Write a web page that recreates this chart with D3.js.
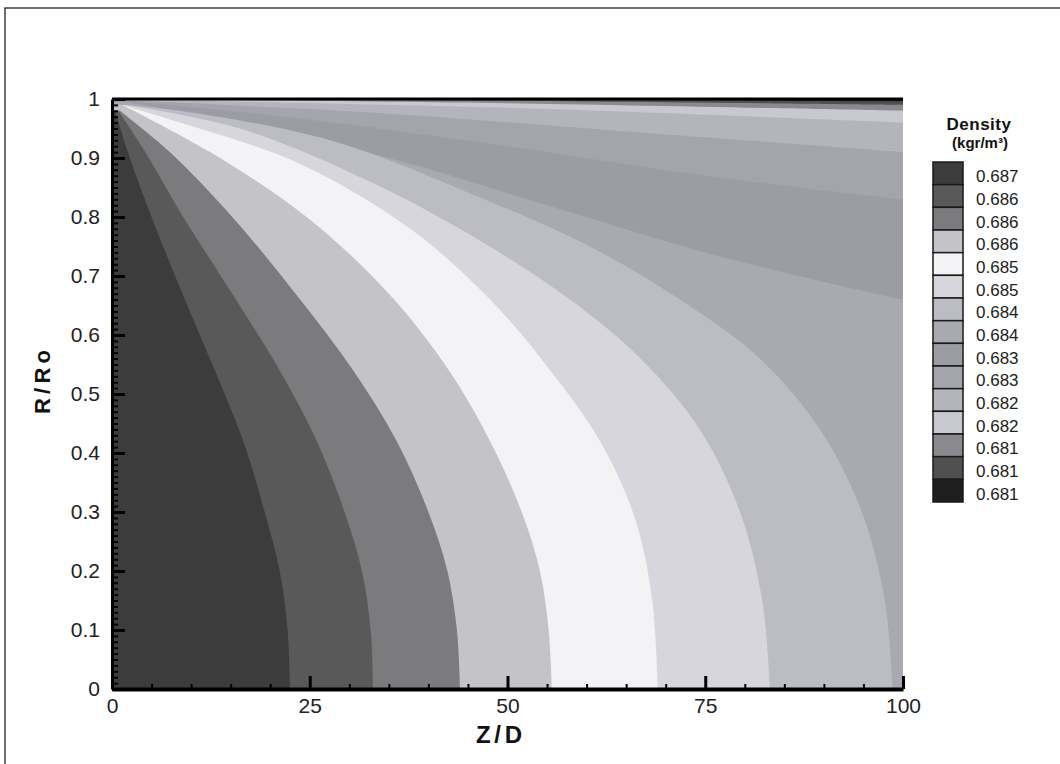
<!DOCTYPE html>
<html>
<head>
<meta charset="utf-8">
<script src="https://cdn.jsdelivr.net/npm/d3@7"></script>
<style>
  body { margin: 0; background: #fff; }
  svg { font-family: "Liberation Sans", Arial, sans-serif; }
</style>
</head>
<body>
<svg id="chart" width="1060" height="764"></svg>
<script>
// contour levels as printed in the legend, top to bottom
var levels = ['0.687', '0.686', '0.686', '0.686', '0.685', '0.685', '0.684', '0.684',
              '0.683', '0.683', '0.682', '0.682', '0.681', '0.681', '0.681'];
var levelColors = ['#3c3c3c', '#595959', '#7b7b7d', '#c3c3c8', '#f3f3f6', '#d6d6dc', '#bcbcc4', '#a9a9b1',
                   '#9c9ca4', '#a4a4ac', '#b4b4bc', '#c8c8d0', '#8a8a8e', '#505050', '#1e1e1e'];

// band boundaries as [Z/D, R/Ro],
// from the bottom (or right) edge up to the inlet corner
var edge1 = [[22.5, 0], [22.2, 0.1], [21.2, 0.2], [19.3, 0.3], [16.6, 0.42], [13, 0.54], [8.9, 0.67], [5, 0.8], [2, 0.91], [0.4, 0.98]];
var edge2 = [[33, 0], [32.7, 0.1], [31.6, 0.2], [29.4, 0.3], [25.9, 0.42], [21.2, 0.54], [15.2, 0.67], [9, 0.8], [4.2, 0.91], [0.8, 0.98]];
var edge3 = [[44, 0], [43.6, 0.1], [42.4, 0.2], [40, 0.3], [36, 0.42], [30.5, 0.54], [23.2, 0.67], [15.2, 0.8], [7.3, 0.91], [1, 0.98]];
var edge4 = [[55.6, 0], [55.2, 0.1], [54.1, 0.2], [51.8, 0.3], [47.8, 0.42], [42.6, 0.54], [35, 0.67], [24.6, 0.8], [12.4, 0.91], [1.3, 0.99]];
var edge5 = [[69, 0], [68.3, 0.15], [66.1, 0.29], [61.7, 0.42], [55.4, 0.54], [47.8, 0.66], [37.7, 0.78], [23.8, 0.89], [8.6, 0.96], [1.3, 0.99]];
var edge6 = [[83.2, 0], [82.2, 0.15], [79.4, 0.3], [74.3, 0.44], [66.8, 0.56], [57.9, 0.66], [46.5, 0.76], [32.6, 0.86], [16.2, 0.95], [1.7, 0.99]];
var edge7 = [[98.7, 0], [97.7, 0.15], [94.8, 0.3], [89.5, 0.44], [81.9, 0.56], [71.8, 0.66], [60.4, 0.75], [45.3, 0.84], [27.6, 0.93], [8.6, 0.98], [1.7, 0.99]];
var edge8 = [[100, 0.66], [90, 0.69], [75, 0.74], [55, 0.82], [35, 0.9], [15, 0.96], [1.9, 0.995]];
var edge9 = [[100, 0.83], [75, 0.87], [50, 0.92], [25, 0.965], [2, 0.997]];
var edge10 = [[100, 0.91], [65, 0.945], [35, 0.975], [2, 0.998]];
var edge11 = [[100, 0.96], [50, 0.985], [2, 0.999]];
var edge12 = [[100, 0.98], [50, 0.993], [2, 1]];
var edge13 = [[100, 0.99], [50, 0.997], [3, 1]];
var edge14 = [[100, 0.996], [50, 0.999], [3, 1]];
var boundaries = [edge1, edge2, edge3, edge4, edge5, edge6, edge7, edge8, edge9, edge10, edge11, edge12, edge13, edge14];

var xTicks = [0, 25, 50, 75, 100];
var yTicks = [0, 0.1, 0.2, 0.3, 0.4, 0.5, 0.6, 0.7, 0.8, 0.9, 1];

var svg = d3.select('#chart');

svg.append('rect').attr('width', 1060).attr('height', 764).attr('fill', '#fff');
// outer frame, right and bottom edges fall outside the picture
svg.append('rect')
    .attr('x', 5).attr('y', 8).attr('width', 1070).attr('height', 780)
    .attr('fill', 'none').attr('stroke', '#222').attr('stroke-width', 1.3);

var x = d3.scaleLinear().domain([0, 100]).range([112, 903]);
var y = d3.scaleLinear().domain([0, 1]).range([689, 99]);

svg.append('clipPath').attr('id', 'plotclip')
    .append('rect')
    .attr('x', x(0)).attr('y', y(1))
    .attr('width', x(100) - x(0)).attr('height', y(0) - y(1));

var plot = svg.append('g').attr('clip-path', 'url(#plotclip)');

var line = d3.line()
    .x(function(d) { return x(d[0]); })
    .y(function(d) { return y(d[1]); })
    .curve(d3.curveCatmullRom.alpha(0.5));

var bandPath = function(pts) {
    var corners = [[0, 0]];
    if (pts[0][1] > 0) corners.push([100, 0]);
    var head = corners.map(function(p) { return x(p[0]) + ',' + y(p[1]); }).join('L');
    var last = pts[pts.length - 1];
    return 'M' + head + line(pts).replace(/^M/, 'L') + 'L' + x(0) + ',' + y(last[1]) + 'Z';
};

plot.append('rect')
    .attr('x', x(0)).attr('y', y(1))
    .attr('width', x(100) - x(0)).attr('height', y(0) - y(1))
    .attr('fill', levelColors[levelColors.length - 1]);

// paint outer regions first, each boundary encloses the bands to its lower left
for (var k = boundaries.length - 1; k >= 0; k--) {
    plot.append('path')
        .attr('d', bandPath(boundaries[k]))
        .attr('fill', levelColors[k]);
}

// axes, ticks pointing into the plot
var xMinor = d3.range(0, 101, 5).filter(function(v) { return v % 25 !== 0; });
var yMinor = d3.range(0, 101, 1).filter(function(v) { return v % 10 !== 0; }).map(function(v) { return v / 100; });

var gxMinor = svg.append('g')
    .attr('transform', 'translate(0,' + y(0) + ')')
    .call(d3.axisBottom(x).tickValues(xMinor).tickSize(-5).tickSizeOuter(0).tickFormat(''));
var gyMinor = svg.append('g')
    .attr('transform', 'translate(' + x(0) + ',0)')
    .call(d3.axisLeft(y).tickValues(yMinor).tickSize(-6).tickSizeOuter(0).tickFormat(''));

var gx = svg.append('g')
    .attr('transform', 'translate(0,' + y(0) + ')')
    .call(d3.axisBottom(x).tickValues(xTicks).tickSize(-13).tickSizeOuter(0).tickPadding(9).tickFormat(d3.format('d')));
var gy = svg.append('g')
    .attr('transform', 'translate(' + x(0) + ',0)')
    .call(d3.axisLeft(y).tickValues(yTicks).tickSize(-13).tickSizeOuter(0).tickPadding(12).tickFormat(d3.format('')));

[gxMinor, gyMinor].forEach(function(g) {
    g.selectAll('.tick line').attr('stroke', '#000').attr('stroke-width', 2);
    g.select('.domain').remove();
});
[gx, gy].forEach(function(g) {
    g.selectAll('.tick line').attr('stroke', '#000').attr('stroke-width', 3);
    g.selectAll('.tick text').attr('fill', '#222').style('font-size', '21px');
    g.select('.domain').attr('stroke', '#000').attr('stroke-width', 3);
});
gx.select('.domain').attr('stroke-width', 4);

// top edge of the plot
svg.append('line')
    .attr('x1', x(0)).attr('x2', x(100))
    .attr('y1', y(1)).attr('y2', y(1))
    .attr('stroke', '#000').attr('stroke-width', 3);

// axis titles
svg.append('text')
    .attr('x', 499).attr('y', 743)
    .attr('text-anchor', 'middle')
    .attr('textLength', 46).attr('lengthAdjust', 'spacing')
    .style('font-size', '24px').style('font-weight', 'bold').attr('fill', '#111')
    .text('Z/D');

svg.append('text')
    .attr('transform', 'translate(50,382) rotate(-90)')
    .attr('text-anchor', 'middle')
    .attr('textLength', 64).attr('lengthAdjust', 'spacing')
    .style('font-size', '22px').style('font-weight', 'bold').attr('fill', '#111')
    .text('R/Ro');

// legend
var lg = svg.append('g');
lg.append('text')
    .attr('x', 979).attr('y', 130)
    .attr('text-anchor', 'middle')
    .style('font-size', '17px').style('font-weight', 'bold').style('letter-spacing', '0.5px').attr('fill', '#111')
    .text('Density');
lg.append('text')
    .attr('x', 980).attr('y', 148)
    .attr('text-anchor', 'middle')
    .style('font-size', '15px').style('font-weight', 'bold').attr('fill', '#111')
    .text('(kgr/m³)');

var sw = d3.scaleBand().domain(d3.range(levels.length)).range([162, 502]);

lg.selectAll('rect.swatch')
    .data(levels)
    .enter().append('rect')
    .attr('class', 'swatch')
    .attr('x', 933).attr('width', 30)
    .attr('y', function(d, i) { return sw(i); })
    .attr('height', sw.bandwidth())
    .attr('fill', function(d, i) { return levelColors[i]; })
    .attr('stroke', '#1a1a1a').attr('stroke-width', 1.5);

lg.selectAll('text.lev')
    .data(levels)
    .enter().append('text')
    .attr('class', 'lev')
    .attr('x', 976)
    .attr('y', function(d, i) { return sw(i) + 16; })
    .attr('dominant-baseline', 'middle')
    .style('font-size', '17px').attr('fill', '#222')
    .text(function(d) { return d; });
</script>
</body>
</html>
